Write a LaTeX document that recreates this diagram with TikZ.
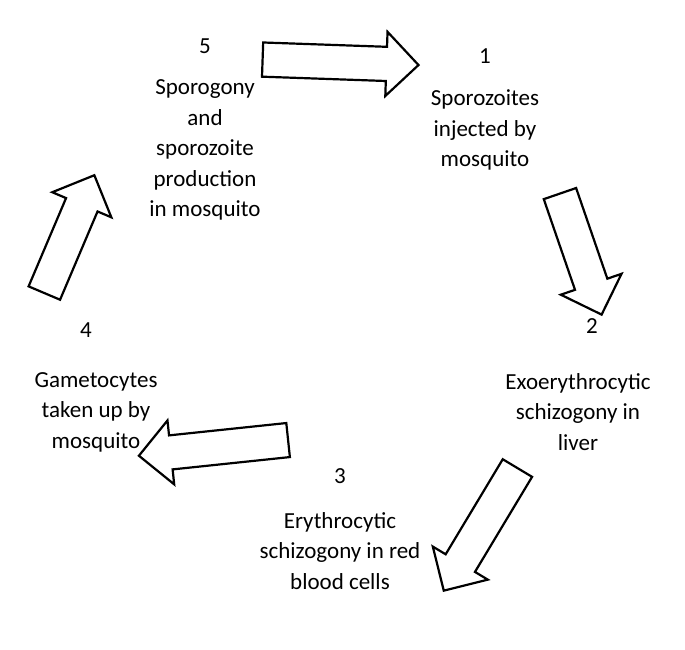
\documentclass[tikz,border=0pt]{standalone}
\usepackage{fontspec}
\setmainfont{Carlito}
\usetikzlibrary{shapes.arrows}
\begin{document}
\begin{tikzpicture}[x=1pt,y=-1pt,
  lbl/.style={align=center,font=\fontsize{23}{30.5}\selectfont,inner sep=0pt},
  blk/.style={single arrow,draw=black,fill=white,line width=2.2pt,
    text width=0pt,text height=0pt,text depth=0pt,inner xsep=0pt,inner ysep=16pt,
    single arrow head extend=15pt,single arrow head indent=0pt}]
\useasboundingbox (0,0) rectangle (685,649);
\node[lbl] (n5) at (205,46) {5};
\node[lbl] (t5) at (205,150) {Sporogony\\and\\sporozoite\\production\\in mosquito};
\node[lbl] (n1) at (485,56) {1};
\node[lbl] (t1) at (485,130) {Sporozoites\\injected by\\mosquito};
\node[lbl] (n2) at (592,326) {2};
\node[lbl] (t2) at (578,412) {Exoerythrocytic\\schizogony in\\liver};
\node[lbl] (n3) at (340,476) {3};
\node[lbl] (t3) at (340,551) {Erythrocytic\\schizogony in red\\blood cells};
\node[lbl] (n4) at (86,330) {4};
\node[lbl] (t4) at (96,412) {Gametocytes\\taken up by\\mosquito};
\node[blk,minimum height=156pt,rotate=-2] (a51) at (332,62) {};
\node[blk,minimum height=128pt,rotate=-71] (a12) at (578,246) {};
\node[blk,minimum height=143pt,rotate=-121] (a23) at (485,522) {};
\node[blk,minimum height=150pt,rotate=186] (a34) at (222,447) {};
\node[blk,minimum height=128pt,rotate=67] (a45) at (66,242) {};
\end{tikzpicture}
\end{document}
